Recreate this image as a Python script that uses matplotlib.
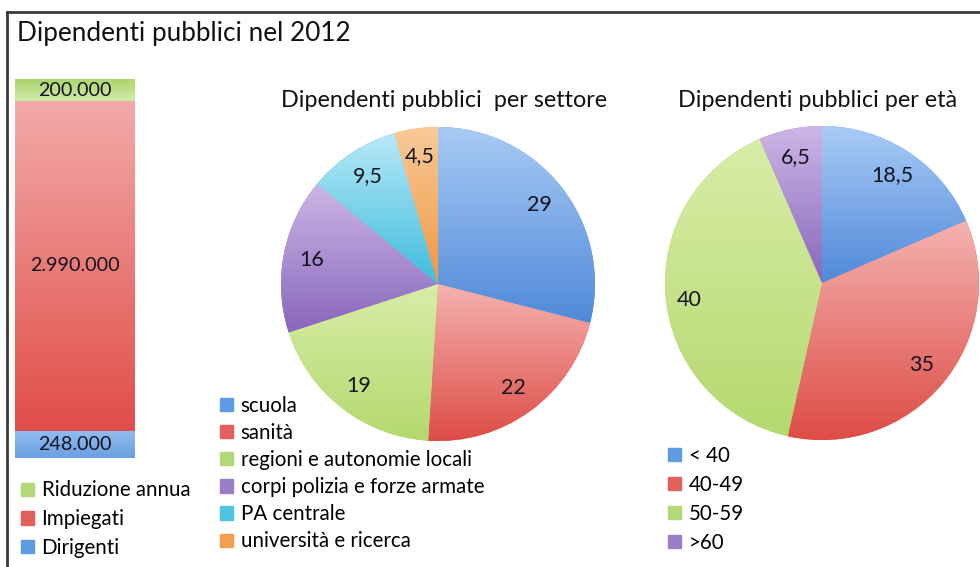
import numpy as np
import matplotlib
matplotlib.use("Agg")
import matplotlib.pyplot as plt
from matplotlib.colors import LinearSegmentedColormap
from matplotlib.patches import Patch
from matplotlib.lines import Line2D

plt.rcParams['font.family'] = ['Lato', 'DejaVu Sans']

# ---- data ----
title = "Dipendenti pubblici nel 2012"
bar_labels = ["Dirigenti", "Impiegati", "Riduzione annua"]
bar_values = [248000, 2990000, 200000]

sector_title = "Dipendenti pubblici  per settore"
sectors = ["scuola", "sanità", "regioni e autonomie locali",
           "corpi polizia e forze armate", "PA centrale", "università e ricerca"]
sector_values = [29, 22, 19, 16, 9.5, 4.5]

age_title = "Dipendenti pubblici per età"
ages = ["< 40", "40-49", "50-59", ">60"]
age_values = [18.5, 35, 40, 6.5]

# ---- styles ----
W, H = 980, 567
GRAD = {
    'blue':   ('#A9CBF5', '#5089DA'),
    'red':    ('#F4B3B0', '#DE4C46'),
    'green':  ('#D8EDA8', '#B4D96E'),
    'purple': ('#CDB6E6', '#8866BC'),
    'cyan':   ('#B7E9F8', '#3FBCDC'),
    'orange': ('#F9CA98', '#EF9641'),
}
SOLID = {'blue': '#5E9BE0', 'red': '#E0605A', 'green': '#B2D878',
         'purple': '#9A7CC8', 'cyan': '#4EC4E2', 'orange': '#F2A050'}
sector_colors = ['blue', 'red', 'green', 'purple', 'cyan', 'orange']
age_colors = ['blue', 'red', 'green', 'purple']
bar_colors = ['blue', 'red', 'green']
BAR_GRAD = {'blue': ('#92BCEE', '#6A9FE3'),
            'red': ('#F2AAA8', '#E14D48'),
            'green': ('#A9D56A', '#D3EAAA')}
TXT = '#14141e'
LEG_FS = 14.8


def fx(px):
    return px / W


def fy(py):
    return 1 - py / H


def grad_fill(ax, patch, top, bottom, ext):
    cmap = LinearSegmentedColormap.from_list('g', [top, bottom])
    arr = np.linspace(0, 1, 256).reshape(-1, 1)
    im = ax.imshow(arr, cmap=cmap, extent=ext, origin='upper',
                   aspect='auto', zorder=1.5, interpolation='bilinear')
    im.set_clip_path(patch)


def fmt_num(v):
    return ("%g" % v).replace('.', ',')


fig = plt.figure(figsize=(W / 100, H / 100), dpi=100)
fig.patch.set_facecolor('white')

# frame
fig.add_artist(Line2D([fx(7), fx(7)], [0, fy(12)], color='#3a3a3a', lw=2,
                      transform=fig.transFigure))
fig.add_artist(Line2D([fx(7), 1], [fy(12), fy(12)], color='#3a3a3a', lw=2,
                      transform=fig.transFigure))

fig.text(fx(17), fy(33), title, fontsize=18.8, color='#111111',
         ha='left', va='center')

# ---- stacked bar ----
axb = fig.add_axes([fx(15), fy(458), fx(134) - fx(15), fy(79) - fy(458)])
bottom = 0
for lab, v, c in zip(bar_labels, bar_values, bar_colors):
    b = axb.bar(0, v, bottom=bottom, width=1.0, color=SOLID[c],
                linewidth=0, label=lab)
    r = b.patches[0]
    grad_fill(axb, r, BAR_GRAD[c][0], BAR_GRAD[c][1],
              [r.get_x(), r.get_x() + r.get_width(), r.get_y(),
               r.get_y() + r.get_height()])
    axb.bar_label(b, labels=[f"{v:,}".replace(',', '.')], label_type='center',
                  fontsize=14.2, color=TXT, zorder=3)
    bottom += v
axb.set_xlim(-0.5, 0.5)
axb.set_ylim(0, sum(bar_values))
axb.axis('off')

fig.legend([Patch(color=SOLID[c]) for c in bar_colors[::-1]],
           bar_labels[::-1], loc='upper left',
           bbox_to_anchor=(fx(21), fy(480.5)), frameon=False, fontsize=LEG_FS,
           handlelength=0.62, handleheight=0.62, handletextpad=0.38,
           labelspacing=0.42, borderpad=0, borderaxespad=0)


# ---- pies ----
def draw_pie(cx, cy, R, values, colors, labels_leg, ptitle, tx, leg_x,
             leg_y, leg_space):
    ax = fig.add_axes([fx(cx - R), fy(cy + R), 2 * R / W, 2 * R / H])
    wedges, texts = ax.pie(values, labels=[fmt_num(v) for v in values],
                           startangle=90, counterclock=False,
                           labeldistance=0.82,
                           colors=[SOLID[c] for c in colors],
                           wedgeprops=dict(linewidth=0),
                           textprops=dict(fontsize=15.5, color=TXT))
    for w, c in zip(wedges, colors):
        e = w.get_path().get_extents()
        grad_fill(ax, w, GRAD[c][0], GRAD[c][1], [e.x0, e.x1, e.y0, e.y1])
    for t in texts:
        t.set_ha('center')
        t.set_va('center')
        t.set_zorder(3)
    ax.set_xlim(-1, 1)
    ax.set_ylim(-1, 1)
    ax.set_aspect('equal')
    ax.axis('off')
    fig.text(fx(tx), fy(101), ptitle, fontsize=16.8, color='#111111',
             ha='center', va='center')
    fig.legend([Patch(color=SOLID[c]) for c in colors], labels_leg,
               loc='upper left', bbox_to_anchor=(fx(leg_x), fy(leg_y)),
               frameon=False, fontsize=LEG_FS, handlelength=0.62,
               handleheight=0.62, handletextpad=0.38,
               labelspacing=leg_space, borderpad=0, borderaxespad=0)
    return ax, texts


ax1, t1 = draw_pie(438, 284, 157, sector_values, sector_colors, sectors,
                   sector_title, 444, 220, 395.5, 0.35)
ax2, t2 = draw_pie(822, 283, 157, age_values, age_colors, ages,
                   age_title, 818, 668, 445.5, 0.44)
# the "40" label sits lower in the original
t2[2].set_position((-0.85 * np.cos(np.deg2rad(7.3)),
                    -0.85 * np.sin(np.deg2rad(7.3))))

fig.savefig("out.png", dpi=100, facecolor='white')
